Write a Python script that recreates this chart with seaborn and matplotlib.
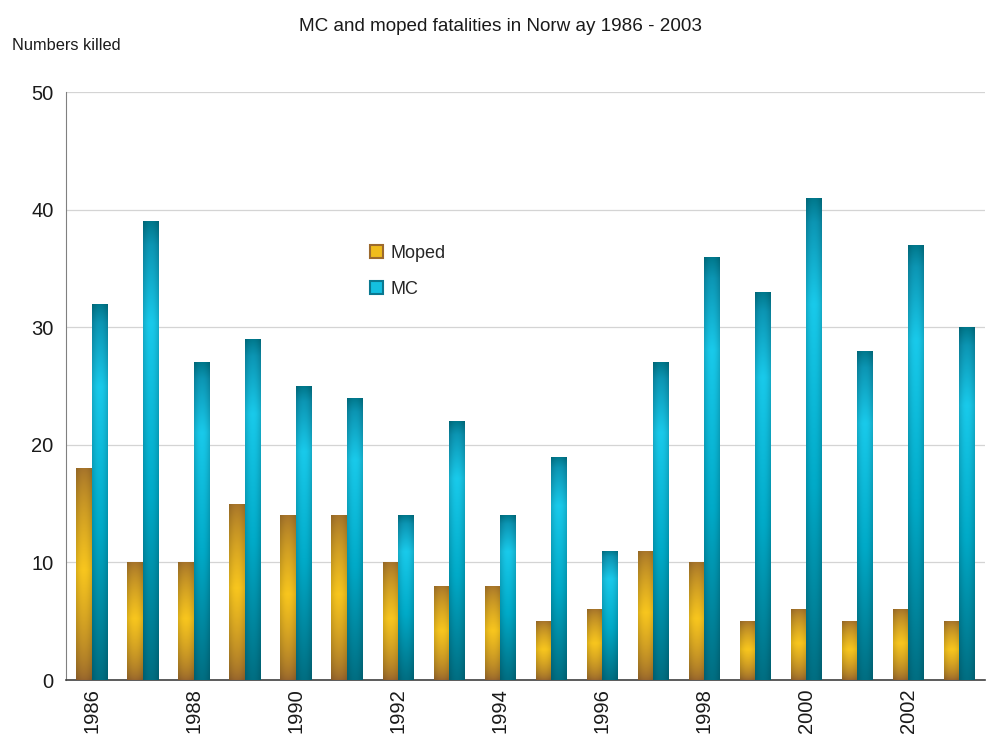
import numpy as np
import pandas as pd
import matplotlib
matplotlib.use("Agg")
import matplotlib.pyplot as plt
import seaborn as sns
from matplotlib.patches import Patch

# Data
years = list(range(1986, 2004))
moped = [18, 10, 10, 15, 14, 14, 10, 8, 8, 5, 6, 11, 10, 5, 6, 5, 6, 5]
mc = [32, 39, 27, 29, 25, 24, 14, 22, 14, 19, 11, 27, 36, 33, 41, 28, 37, 30]
series = ["Moped", "MC"]

df = pd.DataFrame({
    "year": years * 2,
    "killed": moped + mc,
    "type": ["Moped"] * len(years) + ["MC"] * len(years),
})

sns.set_style("white")
plt.rcParams["font.family"] = ["Liberation Sans", "DejaVu Sans"]

fig = plt.figure(figsize=(9.87, 7.36), dpi=100)
ax = fig.add_axes([66 / 987, 1 - 680 / 736, 919 / 987, 588 / 736])

sns.barplot(data=df, x="year", y="killed", hue="type", hue_order=series,
            palette=["#e0a82a", "#12b4d4"], width=0.6, gap=0, ax=ax,
            legend=False, zorder=3, linewidth=0)


def grad_moped(n=200, m=20):
    t = np.linspace(0, 1, n)[:, None]
    brown = np.array([150, 100, 45]) / 255
    gold = np.array([248, 198, 30]) / 255
    w = np.clip(1 - np.abs(t - 0.52) / 0.52, 0, 1) ** 0.7
    col = brown + (gold - brown) * w[..., None]
    xs = np.linspace(-1, 1, m)[None, :]
    shade = 1 - 0.12 * xs ** 2
    return np.clip(col * shade[..., None], 0, 1)


def grad_mc(n=200, m=20):
    t = np.linspace(0, 1, n)
    stops = [0.0, 0.4, 0.78, 0.95, 1.0]
    reds = [0, 0, 25, 12, 0]
    greens = [110, 170, 202, 150, 120]
    blues = [130, 200, 235, 180, 140]
    col = np.stack([np.interp(t, stops, reds), np.interp(t, stops, greens),
                    np.interp(t, stops, blues)], axis=-1)[:, None, :] / 255
    xs = np.linspace(-1, 1, m)[None, :]
    shade = 1 - 0.15 * xs ** 2
    return np.clip(col * shade[..., None], 0, 1)


n_years = len(years)
for i, bar in enumerate(list(ax.patches)):
    x, w, h = bar.get_x(), bar.get_width(), bar.get_height()
    if h <= 0:
        continue
    img = grad_moped() if i < n_years else grad_mc()
    im = ax.imshow(img, extent=[x, x + w, 0, h], origin="lower",
                   aspect="auto", zorder=3.5, interpolation="bilinear")
    im.set_clip_path(bar)

ax.set_xlim(-0.5, n_years - 0.5)
ax.set_ylim(0, 50)
ax.set_yticks(range(0, 51, 10))
ax.set_xticks(range(n_years))
ax.set_xticklabels([str(y) if y % 2 == 0 else "" for y in years],
                   rotation=90, fontsize=14.5)
ax.set_xticks(np.arange(-0.5, n_years, 1), minor=True)
ax.tick_params(axis="x", which="major", length=0, pad=6)
ax.tick_params(axis="x", which="minor", length=6, direction="out",
               color="#404040", width=1)
ax.tick_params(axis="y", length=5, direction="out", color="#808080",
               labelsize=14.5, pad=4)
for lab in ax.get_xticklabels() + ax.get_yticklabels():
    lab.set_color("#1a1a1a")

ax.yaxis.grid(True, color="#d4d4d4", linewidth=0.9, zorder=0)
ax.set_axisbelow(True)
for s in ["top", "right"]:
    ax.spines[s].set_visible(False)
ax.spines["left"].set_color("#808080")
ax.spines["bottom"].set_color("#404040")
ax.spines["bottom"].set_linewidth(1.2)
ax.set_xlabel("")
ax.set_ylabel("")

handles = [Patch(facecolor="#f0bc1c", edgecolor="#9c6a2e", linewidth=1.5),
           Patch(facecolor="#14bfe0", edgecolor="#0a7890", linewidth=1.5)]
ax.legend(handles, series, loc="upper left", bbox_to_anchor=(0.313, 0.768),
          frameon=False, fontsize=13, handlelength=0.7, handleheight=0.7,
          labelspacing=1.05, handletextpad=0.45)

fig.text(0.507, 0.964, "MC and moped fatalities in Norw ay 1986 - 2003",
         ha="center", va="center", fontsize=13.6, color="#1a1a1a")
fig.text(12 / 987, 1 - 46 / 736, "Numbers killed", ha="left", va="center",
         fontsize=11.8, color="#1a1a1a")

fig.savefig("out.png", dpi=100)
